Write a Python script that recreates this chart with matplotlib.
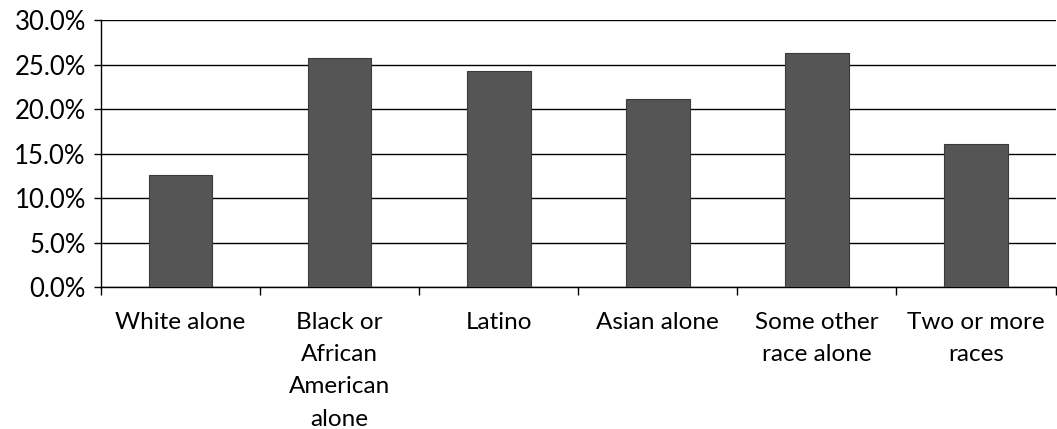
import numpy as np
import matplotlib.pyplot as plt
from matplotlib.ticker import FuncFormatter

## Data ##
categories = ["White alone", "Black or\nAfrican\nAmerican\nalone", "Latino",
              "Asian alone", "Some other\nrace alone", "Two or more\nraces"]
values = [12.6, 25.8, 24.3, 21.1, 26.3, 16.1]
y_ticks = [0, 5, 10, 15, 20, 25, 30]

## Plot ##
plt.rcParams['font.family'] = ['Lato', 'DejaVu Sans']
fig = plt.figure(figsize=(10.57, 4.29), dpi=100)
ax = fig.add_axes([0.0956, 0.331, 0.903, 0.622])

x = np.arange(len(categories))
ax.bar(x, values, width=0.4, color='#555555', edgecolor='#3a3a3a',
       linewidth=0.8, zorder=3)

ax.set_xlim(-0.5, len(categories) - 0.5)
ax.set_ylim(0, 30)
ax.set_yticks(y_ticks)
ax.yaxis.set_major_formatter(FuncFormatter(lambda v, p: f"{v:.1f}%"))
ax.grid(axis='y', color='black', linewidth=1.0, zorder=0)

# category labels centred, ticks on the boundaries
ax.set_xticks(x)
ax.set_xticklabels(categories, linespacing=1.66, va='top')
ax.set_xticks(np.arange(len(categories) + 1) - 0.5, minor=True)
ax.tick_params(axis='x', which='major', length=0, pad=18, labelsize=17.5)
ax.tick_params(axis='x', which='minor', length=6, width=1, direction='out')
ax.tick_params(axis='y', length=5, width=1, direction='out', labelsize=18.5, pad=6)

for side in ['top', 'right']:
    ax.spines[side].set_visible(False)
ax.spines['left'].set_linewidth(1.0)
ax.spines['bottom'].set_linewidth(1.0)

fig.savefig("out.png", dpi=100)
